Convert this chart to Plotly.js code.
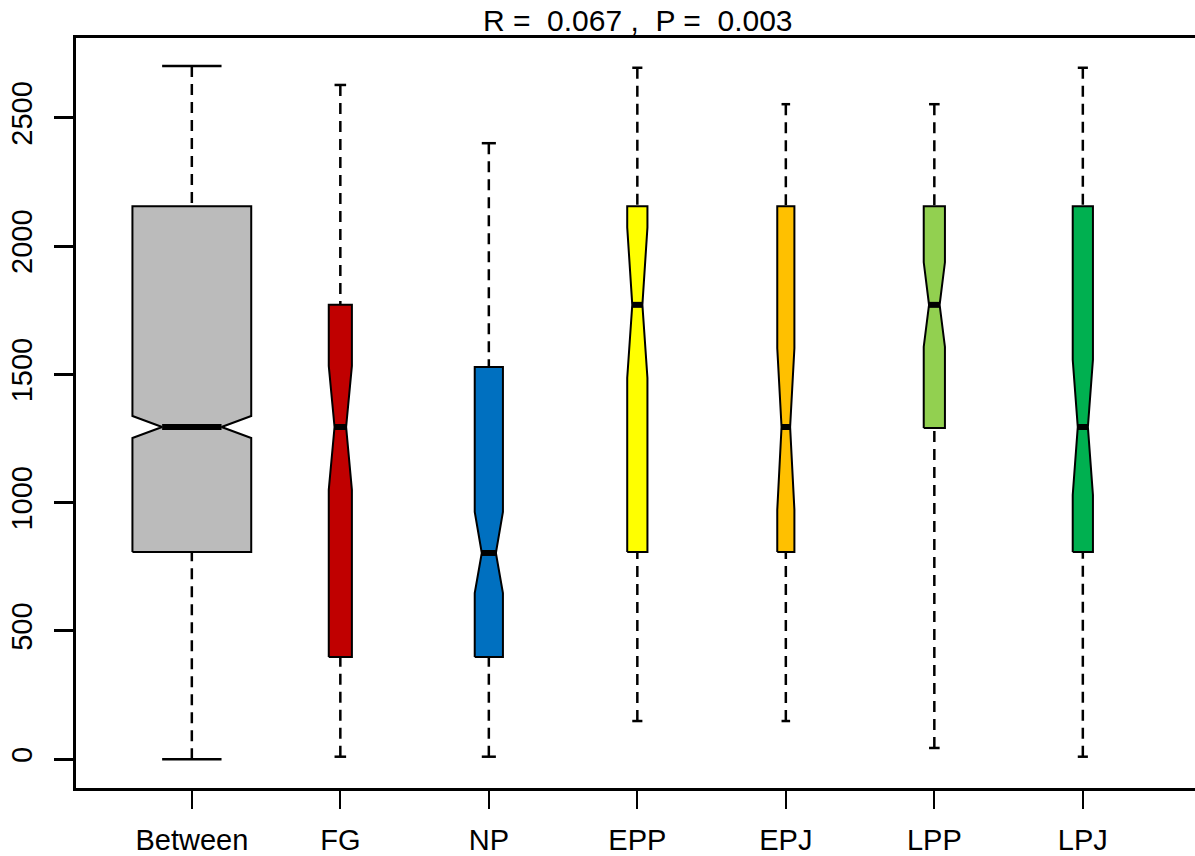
<!DOCTYPE html>
<html>
<head>
<meta charset="utf-8">
<script src="https://cdn.plot.ly/plotly-3.0.1.min.js"></script>
<style>html,body{margin:0;padding:0;background:#fff;}</style>
</head>
<body>
<div id="chart" style="width:1195px;height:856px;"></div>
<script>
// ---- data ----
const categories = ["Between", "FG", "NP", "EPP", "EPJ", "LPP", "LPJ"];
const groupSize  = [2450, 93, 138, 71, 51, 78, 71];
const lowerWhisker = [0, 10, 10, 149, 149, 44, 10];
const q1Values     = [808, 399, 399, 808, 808, 1291, 808];
const medianValues = [1295, 1295, 804, 1771, 1295, 1771, 1295];
const q3Values     = [2155, 1771, 1529, 2155, 2155, 2155, 2155];
const upperWhisker = [2702, 2628, 2401, 2695, 2553, 2553, 2695];
const notchLow     = [1252, 1050, 648, 1486, 972, 1607, 1030];
const notchHigh    = [1338, 1533, 964, 2073, 1602, 1937, 1557];
const colors = ["#BBBBBB", "#C00000", "#0070C0", "#FFFF00", "#FFC000", "#92D050", "#00B050"];
const titleText = "R =\u00A0\u00A00.067\u00A0,\u00A0\u00A0P =\u00A0\u00A00.003";

// ---- build traces ----
const nMax = Math.max(...groupSize);
const traces = [];
categories.forEach((cat, i) => {
  const x = i + 1;
  const w = 0.8 * Math.sqrt(groupSize[i] / nMax);
  const h = w / 2, k = w / 4;
  // whiskers (dashed), drawn from cap towards box
  [[upperWhisker[i], q3Values[i]], [lowerWhisker[i], q1Values[i]]].forEach(seg => {
    traces.push({type: "scatter", mode: "lines", x: [x, x], y: seg,
      line: {color: "#000", width: 2.5, dash: "11px,7px"}, hoverinfo: "skip", showlegend: false});
  });
  // caps
  [upperWhisker[i], lowerWhisker[i]].forEach(v => {
    traces.push({type: "scatter", mode: "lines", x: [x - k, x + k], y: [v, v],
      line: {color: "#000", width: 2.5}, hoverinfo: "skip", showlegend: false});
  });
  // notched box
  traces.push({type: "scatter", mode: "lines", fill: "toself", fillcolor: colors[i],
    x: [x - h, x - h, x - k, x - h, x - h, x + h, x + h, x + k, x + h, x + h, x - h],
    y: [q1Values[i], notchLow[i], medianValues[i], notchHigh[i], q3Values[i], q3Values[i],
        notchHigh[i], medianValues[i], notchLow[i], q1Values[i], q1Values[i]],
    line: {color: "#000", width: 2}, name: cat, showlegend: false});
  // median
  traces.push({type: "scatter", mode: "lines", x: [x - k, x + k], y: [medianValues[i], medianValues[i]],
    line: {color: "#000", width: 6}, hoverinfo: "skip", showlegend: false});
});

const W = 1195, H = 856;
const layout = {
  width: W, height: H,
  paper_bgcolor: "#fff", plot_bgcolor: "#fff",
  margin: {l: 76, r: 0, t: 38, b: 68, pad: 0},
  font: {family: "Liberation Sans, Arial, sans-serif", color: "#000", size: 29},
  title: {text: titleText, font: {size: 30, color: "#000"},
          xref: "paper", x: 0.502, xanchor: "center",
          yref: "container", y: 1 - 20 / H, yanchor: "middle"},
  xaxis: {range: [0.22, 0.22 + 1119 / 148.5], tickvals: categories.map((c, i) => i + 1),
          ticktext: categories, showgrid: false, zeroline: false,
          showline: true, mirror: true, linecolor: "#000", linewidth: 3,
          ticks: "outside", ticklen: 18, tickwidth: 2, tickcolor: "#000",
          ticklabelstandoff: 6, tickfont: {size: 29}},
  yaxis: {range: [-112, 2811], tickvals: [0, 500, 1000, 1500, 2000, 2500],
          showgrid: false, zeroline: false,
          showline: true, mirror: false, linecolor: "#000", linewidth: 3,
          ticks: "outside", ticklen: 19, tickwidth: 3, tickcolor: "#000",
          tickangle: -90, ticklabelstandoff: 10, tickfont: {size: 29}},
  showlegend: false
};
Plotly.newPlot("chart", traces, layout, {displayModeBar: false, staticPlot: true});
</script>
</body>
</html>
